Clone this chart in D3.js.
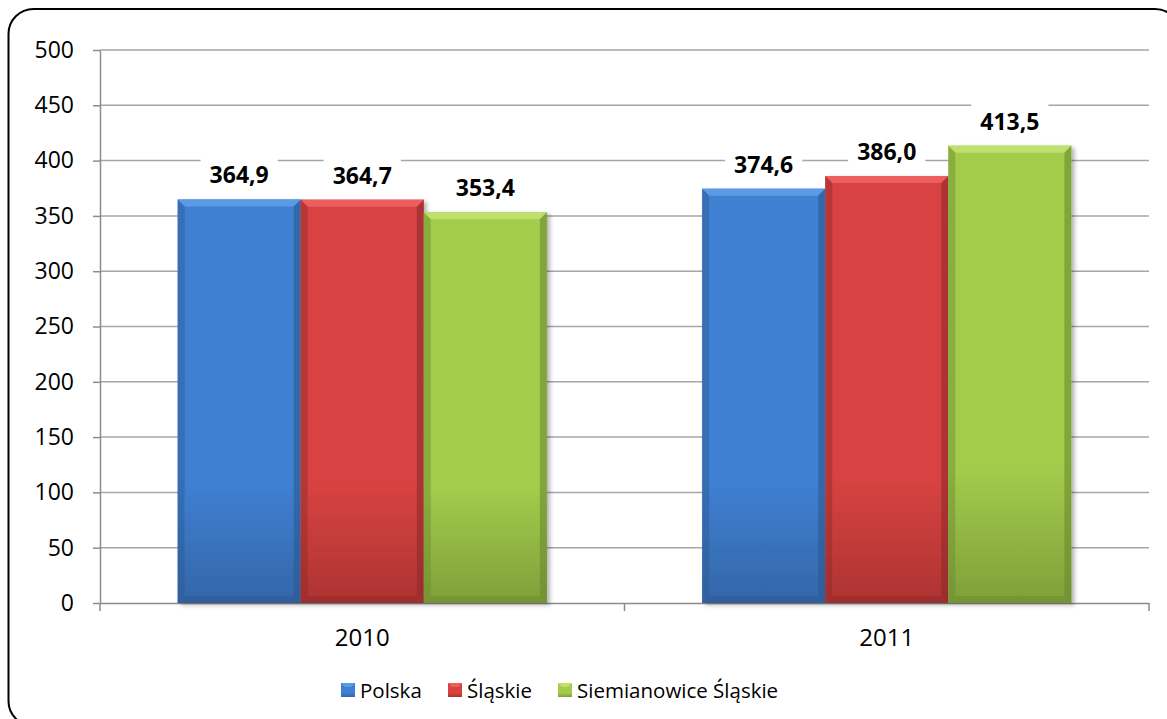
<!DOCTYPE html>
<html>
<head>
<meta charset="utf-8">
<script src="https://cdn.jsdelivr.net/npm/d3@7"></script>
<style>
  html, body { margin: 0; padding: 0; background: #fff; overflow: hidden; }
  svg { display: block; }
  text { font-family: "Open Sans", "DejaVu Sans", sans-serif; }
</style>
</head>
<body>
<div id="chart"></div>
<script>
// Grouped bar chart: Polska / Śląskie / Siemianowice Śląskie, 2010–2011

const years = ["2010", "2011"];
const seriesNames = ["Polska", "Śląskie", "Siemianowice Śląskie"];
const polska = [364.9, 374.6];
const slaskie = [364.7, 386.0];
const siemianowice = [353.4, 413.5];
const yTicks = [0, 50, 100, 150, 200, 250, 300, 350, 400, 450, 500];

const seriesValues = [polska, slaskie, siemianowice];
const palette = [
  {top: "#5b9be6", mid: "#3f80d3", bottom: "#3466a8", edge: "#2c5890"},
  {top: "#ec5f5c", mid: "#d84342", bottom: "#ad3432", edge: "#8f2a29"},
  {top: "#bfe06c", mid: "#a4cc4c", bottom: "#7f9f3a", edge: "#6b8a2e"}
];

const W = 1167, H = 719;
const margin = {top: 50, left: 100};
const plotRight = 1149, plotBottom = 603;

const svg = d3.select("#chart").append("svg")
  .attr("width", W).attr("height", H);

const defs = svg.append("defs");
palette.forEach((p, i) => {
  const g = defs.append("linearGradient").attr("id", "bar" + i)
    .attr("x1", 0).attr("x2", 0).attr("y1", 0).attr("y2", 1);
  g.append("stop").attr("offset", "0%").attr("stop-color", p.mid);
  g.append("stop").attr("offset", "70%").attr("stop-color", p.mid);
  g.append("stop").attr("offset", "100%").attr("stop-color", p.bottom);
});
const shadow = defs.append("filter").attr("id", "shadow")
  .attr("x", "-10%").attr("y", "-10%").attr("width", "130%").attr("height", "130%");
shadow.append("feDropShadow").attr("dx", 3).attr("dy", 2).attr("stdDeviation", 2)
  .attr("flood-color", "#000").attr("flood-opacity", 0.3);

// outer frame: only the visible part of a rounded box (right and bottom sides run off the window)
const r = 25, fx = 8.5, fy = 9, fr = 1180, fb = 726;
svg.append("path")
  .attr("d", `M${fx},${fb - r} L${fx},${fy + r} A${r},${r} 0 0 1 ${fx + r},${fy} L${fr - r},${fy} A${r},${r} 0 0 1 ${fr},${fy + r}`
    + ` M${fx},${fb - r} A${r},${r} 0 0 0 ${fx + r},${fb}`)
  .attr("fill", "none").attr("stroke", "#000").attr("stroke-width", 2);

const x0 = d3.scaleBand().domain(years).range([margin.left, plotRight]);
const innerPad = 0.296;
const x1 = d3.scaleBand().domain(d3.range(seriesNames.length))
  .range([x0.bandwidth() * innerPad / 2, x0.bandwidth() * (1 - innerPad / 2)]);
const y = d3.scaleLinear().domain([0, 500]).range([plotBottom, margin.top]);

// gridlines
svg.append("g")
  .selectAll("line").data(yTicks.filter(t => t > 0)).join("line")
  .attr("x1", margin.left).attr("x2", plotRight)
  .attr("y1", d => y(d)).attr("y2", d => y(d))
  .attr("stroke", "#a6a6a6").attr("stroke-width", 1.5);

// y axis
const yAxis = svg.append("g")
  .attr("transform", `translate(${margin.left},0)`)
  .call(d3.axisLeft(y).tickValues(yTicks).tickSize(7).tickPadding(19).tickSizeOuter(0));
yAxis.select(".domain").attr("stroke", "#8c8c8c").attr("stroke-width", 1.5);
yAxis.selectAll(".tick line").attr("stroke", "#8c8c8c").attr("stroke-width", 1.5);
yAxis.selectAll(".tick text").attr("font-size", "23px").attr("fill", "#000")
  .attr("font-family", "'Open Sans', sans-serif");

// x axis
const xAxis = svg.append("g")
  .attr("transform", `translate(0,${plotBottom})`)
  .call(d3.axisBottom(x0).tickSize(0).tickPadding(26));
xAxis.select(".domain").attr("stroke", "#8c8c8c").attr("stroke-width", 1.5);
xAxis.selectAll(".tick text").attr("font-size", "24px").attr("fill", "#000")
  .attr("font-family", "'Open Sans', sans-serif");
// category boundary ticks
svg.append("g").selectAll("line")
  .data(years.map(d => x0(d)).concat([x0(years[years.length - 1]) + x0.bandwidth()]))
  .join("line")
  .attr("x1", d => d).attr("x2", d => d)
  .attr("y1", plotBottom).attr("y2", plotBottom + 8)
  .attr("stroke", "#8c8c8c").attr("stroke-width", 1.5);

// bars
const barData = [];
years.forEach((yr, i) => {
  seriesValues.forEach((vals, s) => {
    barData.push({year: yr, s: s, v: vals[i]});
  });
});

const fmt = v => d3.format(".1f")(v).replace(".", ",");

const bars = svg.append("g").selectAll("g.bar").data(barData).join("g").attr("class", "bar");
bars.each(function(d) {
  const g = d3.select(this);
  const bx = x0(d.year) + x1(d.s);
  const bw = x1.bandwidth();
  const by = y(d.v);
  const bh = plotBottom - by;
  const p = palette[d.s];
  const bev = 7;
  g.append("rect").attr("x", bx).attr("y", by).attr("width", bw).attr("height", bh)
    .attr("fill", `url(#bar${d.s})`).attr("filter", "url(#shadow)");
  // bevel: top
  g.append("path")
    .attr("d", `M${bx},${by} L${bx + bw},${by} L${bx + bw - bev},${by + bev} L${bx + bev},${by + bev} Z`)
    .attr("fill", p.top);
  // bevel: left
  g.append("path")
    .attr("d", `M${bx},${by} L${bx + bev},${by + bev} L${bx + bev},${plotBottom - bev} L${bx},${plotBottom} Z`)
    .attr("fill", p.edge).attr("opacity", 0.45);
  // bevel: right
  g.append("path")
    .attr("d", `M${bx + bw},${by} L${bx + bw - bev},${by + bev} L${bx + bw - bev},${plotBottom - bev} L${bx + bw},${plotBottom} Z`)
    .attr("fill", p.edge).attr("opacity", 0.6);
  // bevel: bottom
  g.append("path")
    .attr("d", `M${bx},${plotBottom} L${bx + bev},${plotBottom - bev} L${bx + bw - bev},${plotBottom - bev} L${bx + bw},${plotBottom} Z`)
    .attr("fill", p.edge).attr("opacity", 0.5);
});

// data labels with white boxes
const labels = svg.append("g").selectAll("g").data(barData).join("g");
labels.each(function(d) {
  const g = d3.select(this);
  const cx = x0(d.year) + x1(d.s) + x1.bandwidth() / 2;
  const by = y(d.v);
  const t = g.append("text")
    .attr("x", cx).attr("y", by - 16)
    .attr("text-anchor", "middle")
    .attr("font-size", "23px").attr("font-weight", "700").attr("fill", "#000")
    .text(fmt(d.v));
  const bb = t.node().getBBox();
  g.insert("rect", "text")
    .attr("x", bb.x - 9).attr("y", bb.y - 3)
    .attr("width", bb.width + 18).attr("height", bb.height + 6)
    .attr("fill", "#fff");
});

// legend
const legendX = [341, 448, 558];
const legend = svg.append("g").selectAll("g").data(seriesNames).join("g")
  .attr("transform", (d, i) => `translate(${legendX[i]},683)`);
legend.append("rect").attr("width", 14).attr("height", 14)
  .attr("fill", (d, i) => `url(#bar${i})`);
legend.append("path")
  .attr("d", "M0,0 L14,0 L10,4 L4,4 Z")
  .attr("fill", (d, i) => palette[i].top);
legend.append("text")
  .attr("x", 19).attr("y", 15)
  .attr("font-size", "20.5px").attr("fill", "#000")
  .text(d => d);
</script>
</body>
</html>
